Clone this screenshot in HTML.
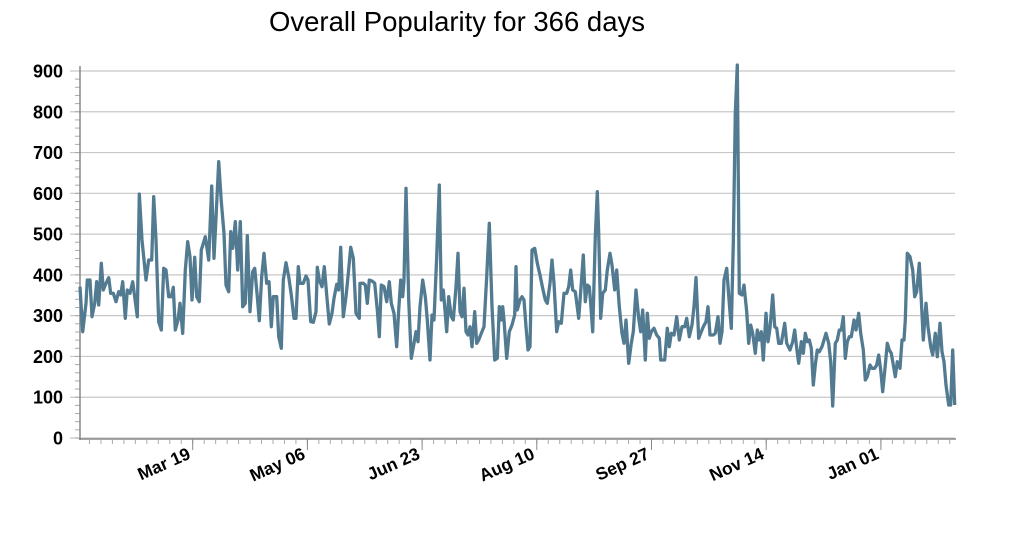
<!DOCTYPE html><html><head><style>body{margin:0;background:#fff;width:1024px;height:533px;overflow:hidden}</style></head><body>
<svg id="s" width="1024" height="533" xmlns="http://www.w3.org/2000/svg" font-family="Liberation Sans, sans-serif">
<text x="457" y="31" font-size="27.5" text-anchor="middle" fill="#000">Overall Popularity for 366 days</text>
<g id="g"></g>
<polyline id="p" fill="none" stroke="#527b91" stroke-width="3.3" stroke-linejoin="round"/>
</svg>
<script>
var g=document.getElementById('g'),h='';
function Y(v){return 438-v*0.4078;}
for(var v=0;v<=900;v+=100){var y=Y(v);h+='<line x1="70" x2="955" y1="'+y+'" y2="'+y+'" stroke="#c8c8c8" stroke-width="1.2"/>';
h+='<text x="63" y="'+(y+6.5)+'" font-size="18" font-weight="bold" text-anchor="end">'+v+'</text>';}
for(var v=0;v<900;v+=20){var y=Y(v);h+='<line x1="75" x2="80" y1="'+y+'" y2="'+y+'" stroke="#aaa"/>';}
h+='<line x1="80" x2="80" y1="66" y2="440" stroke="#888" stroke-width="1.5"/>';
h+='<line x1="79" x2="956" y1="439" y2="439" stroke="#888" stroke-width="1.5"/>';
for(var x=192.7-11.47*10;x<956;x+=11.47){if(x<80)continue;h+='<line x1="'+x+'" x2="'+x+'" y1="439" y2="444" stroke="#aaa"/>';}
var L=['Mar 19','May 06','Jun 23','Aug 10','Sep 27','Nov 14','Jan 01'];
for(var i=0;i<7;i++){var x=192.7+114.7*i;h+='<line x1="'+x+'" x2="'+x+'" y1="439" y2="450" stroke="#888"/>';
h+='<text transform="translate('+(x-1)+',458) rotate(-24)" font-size="17.5" font-weight="bold" text-anchor="end">'+L[i]+'</text>';}
g.innerHTML=h;
var z1=[60,710,68,845,78,760,82,690,90,690,96,800,104,760,110,695,116,765,124,640,130,720,138,700,146,683,152,730,160,730,168,755,176,725,182,735,188,695,196,805,202,720,210,730,218,695,232,800,238,432,246,570,258,690,266,630,275,630,281,440,288,570,296,815,304,840,311,655,318,660,326,740,334,740,340,712,346,840,354,810,360,760,368,850,376,660,383,575,390,620,396,750,404,622,410,740,418,755,424,600,436,560,446,630,455,408,462,625,470,460,476,335,484,455,492,550,498,705,506,725,512,545,518,595,526,515,533,660,541,515,548,770,556,760,562,557,570,785,578,665,584,655,592,740,598,812,605,680,612,610,620,700,627,695,634,830,640,740,650,740,656,860,664,895,670,690,678,638,686,680,694,735,702,805,708,805,715,650,720,700,730,700,738,678,744,690,752,815,760,817,768,785,772,652,778,690,786,710,793,650,800,735,808,822,816,790,822,745,830,703,836,720,842,592,850,800,858,740,864,680,872,592,880,625,888,790,898,805];
var z2=[30,400,40,400,46,405,52,460,58,390,66,393,74,400,82,480,88,560,94,405,102,410,110,455,118,395,124,460,132,490,140,590,146,480,152,390,158,440,162,390,168,115,176,450,184,625,192,580,198,545,204,575,210,470,218,390,226,440,232,510,240,630,246,495,252,510,260,320,268,105,274,450,280,420,284,470,290,545,296,440,304,500,310,510,318,410,324,310,330,485,336,500,342,415,348,545,354,555,360,530,366,590,374,485,380,580,386,570,394,550,402,530,410,380,418,220,426,470,434,630,442,625,448,470,454,510,458,470,462,510,470,625,478,545,486,525,494,495,498,350,502,480,510,450,516,440,522,450,528,530,534,600,540,590,546,300,554,295,562,340,570,375,578,415,586,450,592,460,600,400,606,330,612,400,620,545,626,515,634,520,642,430,650,430,656,410,662,360,668,420,676,425,686,505,694,400,700,315,706,455,712,405,718,410,722,460,728,545,736,260,742,125,746,250,752,505,758,430,766,420,772,360,780,310,786,345,794,420,800,360,808,470,816,550,822,580,828,510,836,640,844,580,850,545,858,420,866,505,872,545,878,480,886,630,892,490,898,565,904,545,912,535,920,555,928,565];
var z3=[32,930,44,930,52,835,58,890,64,850,72,855,80,800,88,870,96,830,104,830,110,805,118,860,126,825,132,770,138,683,146,865,154,845,160,830,168,815,174,770,180,855,190,855,196,850,204,800,210,880,216,845,222,690,230,655,238,760,244,835,250,580,256,190,262,45,268,730,276,735,282,705,290,785,296,880,302,825,308,850,316,910,322,840,328,870,334,845,340,930,348,790,354,875,360,835,368,735,374,830,380,835,386,880,394,880,404,820,410,880,420,900,428,875,434,840,440,895,446,940,454,875,460,910,466,850,472,875,478,870,484,895,490,1005,496,945,502,900,508,905,516,890,522,870,528,850,536,880,542,935,548,1068,556,880,562,870,568,840,574,840,580,800,586,925,592,875,598,860,604,860,612,810,618,840,626,790,632,850,640,900,646,990,652,980,660,945,666,955,674,955,680,945,686,915,692,960,698,1025,706,945,712,880,718,900,724,910,730,945,736,980,742,935,750,955,756,870,762,870,766,810,772,610,780,620,788,660,794,740,800,725,808,640,814,750,820,870,828,760,834,830,842,890,848,915,856,850,862,920,870,820,876,905,882,935,888,1005,896,1065,902,1065,908,900,914,1065];
var pts=[];
function add(a,ox,oy){for(var i=0;i<a.length;i+=2)pts.push((ox+a[i]/3).toFixed(1)+','+(oy+a[i+1]/3).toFixed(1));}
add(z1,60,50);add(z2,350,150);add(z3,650,50);
document.getElementById('p').setAttribute('points',pts.join(' '));
</script>
</body></html>
